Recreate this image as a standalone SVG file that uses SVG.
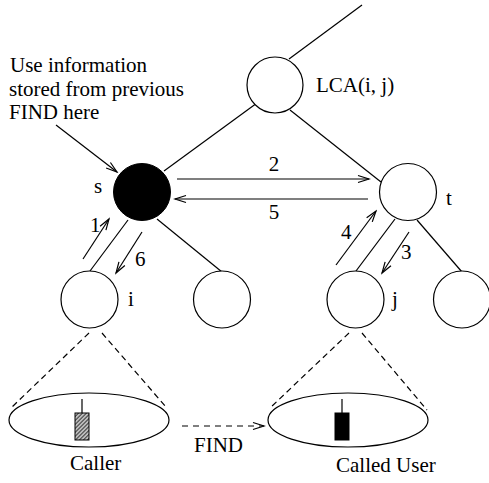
<svg xmlns="http://www.w3.org/2000/svg" width="489" height="483" viewBox="0 0 489 483">
<style>
  .n { fill: #fff; stroke: #000; stroke-width: 1.2; }
  .e { stroke: #000; stroke-width: 1.2; fill: none; }
  .d { stroke: #000; stroke-width: 1.2; fill: none; stroke-dasharray: 6 4; }
  .a { stroke: #000; stroke-width: 1.2; fill: none; marker-end: url(#arr); }
  .ad { stroke: #000; stroke-width: 1.2; fill: none; stroke-dasharray: 6 5; marker-end: url(#arr); }
  text { font-family: "Liberation Serif", "Times New Roman", serif; font-size: 21px; fill: #000; }
</style>
<defs>
  <marker id="arr" markerUnits="userSpaceOnUse" markerWidth="14" markerHeight="10" refX="12" refY="5" orient="auto">
    <path d="M1,1.5 L12,5 L1,8.5" fill="none" stroke="#000" stroke-width="1.2"/>
  </marker>
  <pattern id="hatch" patternUnits="userSpaceOnUse" width="2.8" height="2.8" patternTransform="rotate(45)">
    <rect width="2.8" height="2.8" fill="#bbb"/>
    <line x1="0" y1="0" x2="0" y2="2.8" stroke="#222" stroke-width="1.6"/>
  </pattern>
</defs>

<g id="connectors">
  <line class="e" x1="289" y1="59" x2="362" y2="5"/>
  <line class="e" x1="164" y1="171" x2="257" y2="103"/>
  <line class="e" x1="290" y1="110" x2="381" y2="182"/>
  <line class="e" x1="128" y1="220" x2="90" y2="271"/>
  <line class="e" x1="157" y1="219" x2="222" y2="272"/>
  <line class="e" x1="395" y1="219" x2="356" y2="271"/>
  <line class="e" x1="417" y1="220" x2="462" y2="272"/>
  <line class="d" x1="89" y1="333" x2="12" y2="407"/>
  <line class="d" x1="102" y1="333" x2="166" y2="407"/>
  <line class="d" x1="349" y1="333" x2="271" y2="407"/>
  <line class="d" x1="362" y1="333" x2="427" y2="410"/>
  <line class="a" x1="56" y1="125" x2="117" y2="172"/>
  <line class="a" x1="177" y1="179" x2="369" y2="179"/>
  <line class="a" x1="368" y1="199" x2="175" y2="199"/>
  <line class="a" x1="83" y1="259" x2="109" y2="219"/>
  <line class="a" x1="142" y1="232" x2="116" y2="273"/>
  <line class="a" x1="336" y1="265" x2="376" y2="211"/>
  <line class="a" x1="409" y1="232" x2="382" y2="273"/>
  <line class="ad" x1="182" y1="426" x2="264" y2="426"/>
  <text x="274" y="171" text-anchor="middle">2</text>
  <text x="274" y="219" text-anchor="middle">5</text>
  <text x="90" y="232">1</text>
  <text x="135" y="266">6</text>
  <text x="341" y="239">4</text>
  <text x="401" y="259">3</text>
  <text x="194" y="452">FIND</text>
</g>

<g id="note">
  <text x="10" y="72">Use information</text>
  <text x="9" y="96">stored from previous</text>
  <text x="9" y="119">FIND here</text>
</g>

<g id="lca">
  <circle class="n" cx="275" cy="85" r="28"/>
  <text x="316" y="92">LCA(i, j)</text>
</g>
<g id="s">
  <circle cx="142" cy="192" r="28.5" fill="#000" stroke="#000"/>
  <text x="94" y="193">s</text>
</g>
<g id="t">
  <circle class="n" cx="408" cy="192" r="28.5"/>
  <text x="446" y="205">t</text>
</g>
<g id="i">
  <circle class="n" cx="89.5" cy="299.5" r="28.5"/>
  <text x="128" y="306">i</text>
</g>
<g id="s-right">
  <circle class="n" cx="222" cy="299.5" r="28.5"/>
</g>
<g id="j">
  <circle class="n" cx="355.5" cy="299.5" r="28.5"/>
  <text x="392" y="306">j</text>
</g>
<g id="t-right">
  <circle class="n" cx="462" cy="299.5" r="28.5"/>
</g>
<g id="caller">
  <ellipse class="n" cx="89" cy="420" rx="80" ry="27"/>
  <line class="e" x1="82" y1="399" x2="82" y2="413"/>
  <rect x="75" y="413" width="14" height="27" fill="url(#hatch)" stroke="#000" stroke-width="1"/>
  <text x="70" y="470">Caller</text>
</g>
<g id="called">
  <ellipse class="n" cx="348" cy="420" rx="80" ry="27"/>
  <line class="e" x1="342" y1="399" x2="342" y2="413"/>
  <rect x="335" y="413" width="14" height="27" fill="#000" stroke="#000" stroke-width="1"/>
  <text x="336" y="472">Called User</text>
</g>
</svg>
